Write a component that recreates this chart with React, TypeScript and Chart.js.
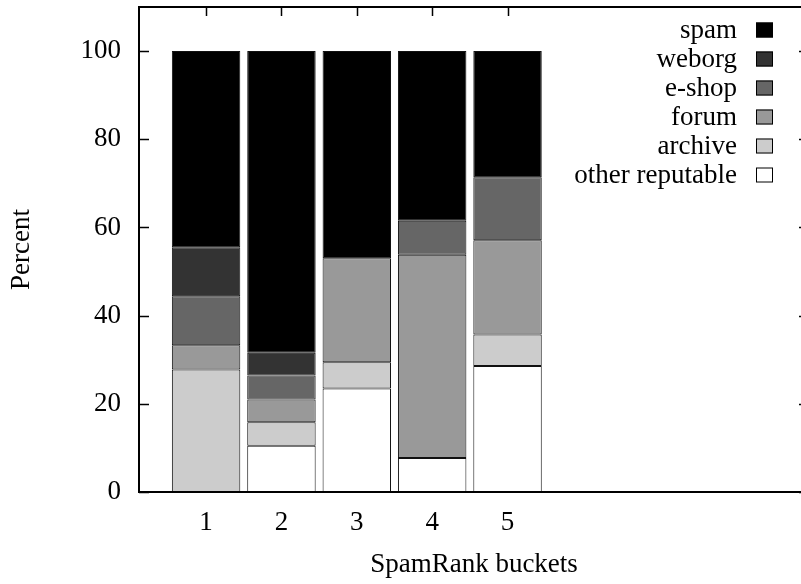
import React, { useEffect, useRef } from "react";
import { Chart, registerables } from "chart.js";

Chart.register(...registerables);

// ---- data ----
const categories = [1, 2, 3, 4, 5];
const xTickLabels = ["1", "2", "3", "4", "5"];
const yTickValues = [0, 20, 40, 60, 80, 100];
const seriesNames = ["other reputable", "archive", "forum", "e-shop", "weborg", "spam"];
const otherReputable = [0, 10.5, 23.5, 7.7, 28.6];
const archive = [27.8, 5.3, 5.9, 0, 7.1];
const forum = [5.5, 5.2, 23.6, 46.1, 21.4];
const eshop = [11.1, 5.4, 0, 7.7, 14.3];
const weborg = [11.1, 5.2, 0, 0, 0];
const spam = [44.5, 68.4, 47.0, 38.5, 28.6];
const seriesValues = [otherReputable, archive, forum, eshop, weborg, spam];
const seriesColors = ["#ffffff", "#cccccc", "#999999", "#666666", "#333333", "#000000"];

const FONT = "'Liberation Serif', 'Times New Roman', serif";
const FSIZE = 27;

const ticksPlugin = {
  id: "inwardTicks",
  beforeDatasetsDraw(chart: any) {
    const { ctx, chartArea, scales } = chart;
    const { left, right, top, bottom } = chartArea;
    ctx.save();
    ctx.strokeStyle = "#000";
    ctx.lineWidth = 1.5;
    ctx.beginPath();
    yTickValues.forEach((v) => {
      const py = Math.round(scales.y.getPixelForValue(v)) + 0.5;
      ctx.moveTo(left, py);
      ctx.lineTo(left + 10, py);
      ctx.moveTo(right, py);
      ctx.lineTo(right - 10, py);
    });
    categories.forEach((c) => {
      const px = Math.round(scales.x.getPixelForValue(c)) + 0.5;
      ctx.moveTo(px, top);
      ctx.lineTo(px, top + 9);
      ctx.moveTo(px, bottom);
      ctx.lineTo(px, bottom - 9);
    });
    ctx.stroke();
    ctx.restore();
  },
  afterDatasetsDraw(chart: any) {
    const { ctx, chartArea } = chart;
    const { left, right, top, bottom } = chartArea;
    ctx.save();
    ctx.strokeStyle = "#000";
    ctx.lineWidth = 2;
    ctx.strokeRect(left, top, right - left, bottom - top);
    // legend (right-aligned text, box on the right)
    const n = chart.data.datasets.length;
    ctx.font = `${FSIZE}px ${FONT}`;
    ctx.textAlign = "right";
    ctx.textBaseline = "alphabetic";
    for (let i = 0; i < n; i++) {
      const ds = chart.data.datasets[n - 1 - i];
      const cy = 30 + 29 * i;
      ctx.fillStyle = "#000";
      ctx.fillText(ds.label, 737, cy + 8);
      ctx.fillStyle = ds.backgroundColor;
      ctx.fillRect(756, cy - 7.5, 17, 15);
      ctx.lineWidth = 1;
      ctx.strokeStyle = "#000";
      ctx.strokeRect(756.5, cy - 7, 16, 14);
    }
    ctx.restore();
  },
};

export default function App() {
  const ref = useRef<HTMLCanvasElement>(null);
  useEffect(() => {
    if (!ref.current) return;
    const datasets = seriesNames.map((name, si) => ({
      label: name,
      data: categories.map((c, i) => ({ x: c, y: seriesValues[si][i] })),
      backgroundColor: seriesColors[si],
      borderColor: "#111",
      borderWidth: 1,
      borderSkipped: false,
      barPercentage: 0.908,
      categoryPercentage: 1,
    }));
    const chart = new Chart(ref.current, {
      type: "bar",
      data: { datasets },
      plugins: [ticksPlugin],
      options: {
        animation: false,
        responsive: false,
        devicePixelRatio: 1,
        layout: { padding: { top: 7, right: 3, left: 0, bottom: 0 } },
        plugins: { legend: { display: false }, tooltip: { enabled: false } },
        scales: {
          x: {
            type: "linear",
            stacked: true,
            offset: false,
            min: 0.11,
            max: 9.0,
            grid: { display: false, offset: false },
            border: { display: false },
            afterBuildTicks: (s: any) => {
              s.ticks = categories.map((v) => ({ value: v }));
            },
            afterFit: (s: any) => {
              s.height = 92;
              s.paddingLeft = 0;
              s.paddingRight = 0;
            },
            ticks: {
              padding: 7,
              color: "#000",
              font: { family: FONT, size: FSIZE },
              maxRotation: 0,
              autoSkip: false,
              callback: (v: any) => {
                const idx = categories.indexOf(Number(v));
                return idx >= 0 ? xTickLabels[idx] : "";
              },
            },
            title: {
              display: true,
              text: "SpamRank buckets",
              color: "#000",
              font: { family: FONT, size: FSIZE },
              padding: { top: 0, bottom: 3 },
            },
          },
          y: {
            stacked: true,
            min: 0,
            max: 110,
            grid: { display: false },
            border: { display: false },
            afterBuildTicks: (s: any) => {
              s.ticks = yTickValues.map((v) => ({ value: v }));
            },
            afterFit: (s: any) => {
              s.width = 139;
              s.paddingTop = 0;
              s.paddingBottom = 0;
            },
            ticks: {
              padding: 10,
              color: "#000",
              font: { family: FONT, size: FSIZE },
            },
            title: {
              display: true,
              text: "Percent",
              color: "#000",
              font: { family: FONT, size: FSIZE },
              padding: { top: 6, bottom: 0 },
            },
          },
        },
      } as any,
    });
    return () => chart.destroy();
  }, []);
  return (
    <div style={{ position: "fixed", left: 0, top: 0, width: 801, height: 584, overflow: "hidden", background: "#fff" }}>
      <canvas ref={ref} width={812} height={584} style={{ display: "block", width: 812, height: 584 }} />
    </div>
  );
}
